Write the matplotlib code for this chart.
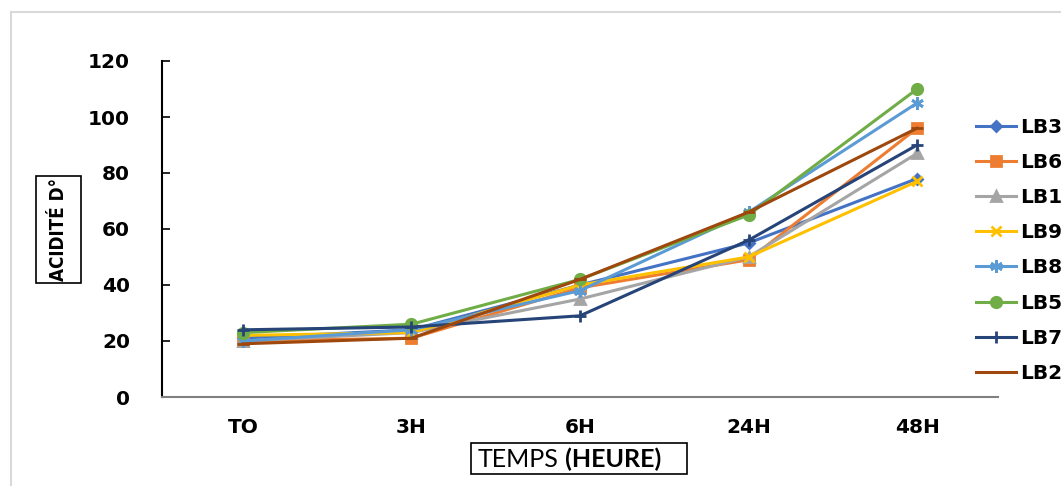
import matplotlib.pyplot as plt
from matplotlib.lines import Line2D
from matplotlib.patches import Rectangle

# acidity (degrees Dornic) over time for each strain
temps = ['TO', '3H', '6H', '24H', '48H']
lb3 = [21, 24, 40, 55, 78]
lb6 = [20, 21, 39, 49, 96]
lb1 = [20, 23, 35, 50, 87]
lb9 = [22, 23, 40, 50, 77]
lb8 = [20, 24, 38, 66, 105]
lb5 = [23, 26, 42, 65, 110]
lb7 = [24, 25, 29, 56, 90]
lb2 = [19, 21, 42, 66, 96]

series = [
    ('LB3', lb3, '#4472C4', 'D', 5.5),
    ('LB6', lb6, '#ED7D31', 's', 7),
    ('LB1', lb1, '#A5A5A5', '^', 7),
    ('LB9', lb9, '#FFC000', 'x', 7),
    ('LB8', lb8, '#5B9BD5', (6, 2, 0), 9),
    ('LB5', lb5, '#70AD47', 'o', 7.5),
    ('LB7', lb7, '#264478', '+', 8),
    ('LB2', lb2, '#9E480E', '_', 8),
]

fig = plt.figure(figsize=(10.61, 4.86), dpi=100)
ax = fig.add_axes([162/1061, 1-397/486, (998-162)/1061, (397-61)/486])

x = list(range(len(temps)))
for name, vals, col, mk, ms in series:
    ax.plot(x, vals, color=col, lw=2.2, marker=mk, ms=ms, mew=2,
            mfc=col, mec=col, label=name, clip_on=False)

ax.set_xlim(-0.48, 4.48)
ax.set_ylim(0, 120)
ax.set_yticks(range(0, 121, 20))
ax.set_xticks(x)
ax.set_xticklabels(temps)

for s in ['top', 'right']:
    ax.spines[s].set_visible(False)
ax.spines['left'].set_color('black')
ax.spines['left'].set_linewidth(1.5)
ax.spines['bottom'].set_color('#808080')
ax.spines['bottom'].set_linewidth(1.5)

ax.tick_params(axis='y', direction='in', length=6, width=1.2, pad=23)
ax.tick_params(axis='x', length=0, pad=15)
for lab in ax.get_xticklabels() + ax.get_yticklabels():
    lab.set_fontfamily('DejaVu Sans')
    lab.set_fontweight('bold')
    lab.set_fontsize(14.5)

leg = ax.legend(loc='upper left', bbox_to_anchor=(976/1061, 1-118/486),
                bbox_transform=fig.transFigure, frameon=False,
                handlelength=2.0, handletextpad=0.2, labelspacing=0.8,
                borderaxespad=0, borderpad=0,
                prop={'family': 'DejaVu Sans', 'weight': 'bold', 'size': 14.5})

# boxed axis titles
fig.text(58.5/1061, 1-229.5/486, 'ACIDITÉ D°', rotation=90,
         ha='center', va='center', fontsize=13.5, fontweight='bold',
         family='DejaVu Sans', fontstretch='condensed')
fig.add_artist(Rectangle((36/1061, 1-283/486), 45/1061, 107/486,
                         transform=fig.transFigure, fill=False,
                         ec='black', lw=1.2))

t1 = fig.text(478/1061, 1-459/486, 'TEMPS', ha='left', va='center',
              fontsize=18, family='Lato')
ax.annotate(' (HEURE)', xy=(1, 0.5), xycoords=t1, ha='left', va='center',
            fontsize=18, fontweight='bold', family='Lato',
            annotation_clip=False)
fig.add_artist(Rectangle((471/1061, 1-474/486), 216/1061, 31/486,
                         transform=fig.transFigure, fill=False,
                         ec='black', lw=1.2))

# chart area frame
fig.add_artist(Line2D([11/1061, 11/1061], [0, 1-12/486],
                      transform=fig.transFigure, color='#d9d9d9', lw=1.5))
fig.add_artist(Line2D([11/1061, 1], [1-12/486, 1-12/486],
                      transform=fig.transFigure, color='#d9d9d9', lw=1.5))

fig.savefig('out.png', dpi=100)
